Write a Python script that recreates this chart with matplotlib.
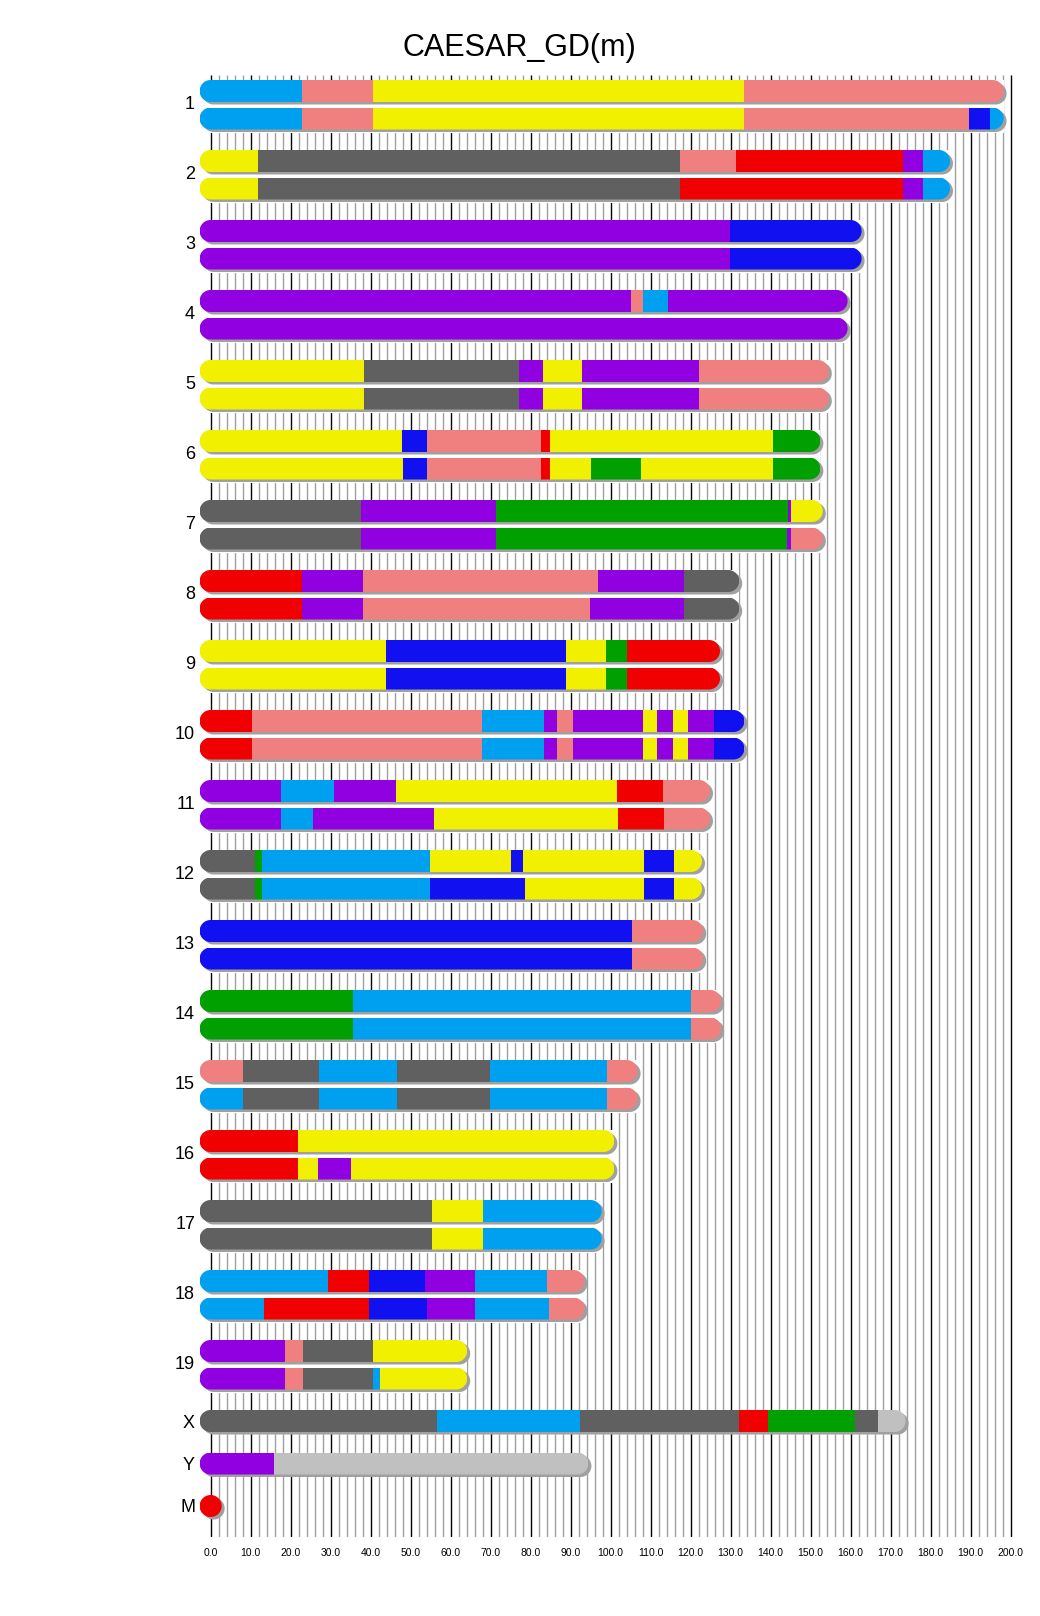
import numpy as np
import matplotlib
matplotlib.use("Agg")
import matplotlib.pyplot as plt
from matplotlib.patches import Polygon, Rectangle
from matplotlib.transforms import offset_copy

plt.rcParams['font.family'] = ['Liberation Sans', 'DejaVu Sans']

# haplotype colours
palette = {
    'lb': '#00a0f0',  # light blue
    'sa': '#f08080',  # salmon
    'ye': '#f0f000',  # yellow
    'dg': '#606060',  # dark grey
    're': '#f00000',  # red
    'pu': '#9000e0',  # purple
    'bl': '#1010f0',  # blue
    'gn': '#00a000',  # green
    'lg': '#c0c0c0',  # light grey
}

# each bar: list of (segment end in Mb, haplotype colour key)
chr1_a = [(22.9, 'lb'), (40.7, 'sa'), (133.3, 'ye'), (195.5, 'sa')]
chr1_b = [(22.9, 'lb'), (40.7, 'sa'), (133.3, 'ye'), (189.6, 'sa'), (194.8, 'bl'), (195.5, 'lb')]
chr2_a = [(11.9, 'ye'), (117.3, 'dg'), (131.3, 'sa'), (173.2, 're'), (178.2, 'pu'), (182.1, 'lb')]
chr2_b = [(11.9, 'ye'), (117.3, 'dg'), (173.2, 're'), (178.2, 'pu'), (182.1, 'lb')]
chr3_a = [(129.9, 'pu'), (160.0, 'bl')]
chr3_b = [(129.9, 'pu'), (160.0, 'bl')]
chr4_a = [(105.2, 'pu'), (108.2, 'sa'), (114.4, 'lb'), (156.5, 'pu')]
chr4_b = [(156.5, 'pu')]
chr5_a = [(38.4, 'ye'), (77.1, 'dg'), (83.0, 'pu'), (92.8, 'ye'), (122.2, 'pu'), (151.8, 'sa')]
chr5_b = [(38.4, 'ye'), (77.1, 'dg'), (83.0, 'pu'), (92.8, 'ye'), (122.2, 'pu'), (151.8, 'sa')]
chr6_a = [(47.9, 'ye'), (54.1, 'bl'), (82.5, 'sa'), (84.8, 're'), (140.5, 'ye'), (149.7, 'gn')]
chr6_b = [(48.2, 'ye'), (54.1, 'bl'), (82.5, 'sa'), (84.8, 're'), (95.1, 'ye'), (107.7, 'gn'),
          (140.5, 'ye'), (149.7, 'gn')]
chr7_a = [(37.6, 'dg'), (71.4, 'pu'), (144.3, 'gn'), (145.1, 'pu'), (150.3, 'ye')]
chr7_b = [(37.6, 'dg'), (71.4, 'pu'), (144.1, 'gn'), (145.1, 'pu'), (150.3, 'sa')]
chr8_a = [(22.9, 're'), (38.1, 'pu'), (96.9, 'sa'), (118.3, 'pu'), (129.4, 'dg')]
chr8_b = [(22.9, 're'), (38.1, 'pu'), (94.8, 'sa'), (118.3, 'pu'), (129.4, 'dg')]
chr9_a = [(43.8, 'ye'), (88.8, 'bl'), (98.8, 'ye'), (104.0, 'gn'), (124.6, 're')]
chr9_b = [(43.8, 'ye'), (88.8, 'bl'), (98.8, 'ye'), (104.0, 'gn'), (124.6, 're')]
chr10_a = [(10.3, 're'), (67.8, 'sa'), (83.3, 'lb'), (86.7, 'pu'), (90.5, 'sa'), (108.2, 'pu'),
           (111.5, 'ye'), (115.5, 'pu'), (119.4, 'ye'), (125.8, 'pu'), (130.7, 'bl')]
chr10_b = [(10.3, 're'), (67.8, 'sa'), (83.3, 'lb'), (86.7, 'pu'), (90.5, 'sa'), (108.2, 'pu'),
           (111.5, 'ye'), (115.5, 'pu'), (119.4, 'ye'), (125.8, 'pu'), (130.7, 'bl')]
chr11_a = [(17.5, 'pu'), (30.9, 'lb'), (46.4, 'pu'), (101.6, 'ye'), (113.2, 're'), (122.1, 'sa')]
chr11_b = [(17.6, 'pu'), (25.6, 'lb'), (55.8, 'pu'), (101.8, 'ye'), (113.3, 're'), (122.1, 'sa')]
chr12_a = [(11.2, 'dg'), (12.8, 'gn'), (54.8, 'lb'), (75.2, 'ye'), (78.2, 'bl'), (108.3, 'ye'),
           (115.8, 'bl'), (120.1, 'ye')]
chr12_b = [(11.2, 'dg'), (12.8, 'gn'), (54.8, 'lb'), (78.6, 'bl'), (108.3, 'ye'), (115.8, 'bl'),
           (120.1, 'ye')]
chr13_a = [(105.4, 'bl'), (120.4, 'sa')]
chr13_b = [(105.4, 'bl'), (120.4, 'sa')]
chr14_a = [(35.6, 'gn'), (120.1, 'lb'), (124.9, 'sa')]
chr14_b = [(35.6, 'gn'), (120.1, 'lb'), (124.9, 'sa')]
chr15_a = [(8.2, 'sa'), (27.1, 'dg'), (46.6, 'lb'), (69.8, 'dg'), (99.2, 'lb'), (104.0, 'sa')]
chr15_b = [(8.2, 'lb'), (27.1, 'dg'), (46.6, 'lb'), (69.8, 'dg'), (99.2, 'lb'), (104.0, 'sa')]
chr16_a = [(21.9, 're'), (98.2, 'ye')]
chr16_b = [(21.9, 're'), (26.8, 'ye'), (35.1, 'pu'), (98.2, 'ye')]
chr17_a = [(55.4, 'dg'), (68.2, 'ye'), (95.0, 'lb')]
chr17_b = [(55.4, 'dg'), (68.2, 'ye'), (95.0, 'lb')]
chr18_a = [(29.4, 'lb'), (39.7, 're'), (53.7, 'bl'), (66.0, 'pu'), (84.2, 'lb'), (90.7, 'sa')]
chr18_b = [(13.4, 'lb'), (39.7, 're'), (54.1, 'bl'), (66.2, 'pu'), (84.5, 'lb'), (90.7, 'sa')]
chr19_a = [(18.6, 'pu'), (23.0, 'sa'), (40.5, 'dg'), (61.4, 'ye')]
chr19_b = [(18.6, 'pu'), (23.0, 'sa'), (40.5, 'dg'), (42.3, 'lb'), (61.4, 'ye')]
chrX = [(56.5, 'dg'), (92.3, 'lb'), (132.0, 'dg'), (139.4, 're'), (161.1, 'gn'), (166.8, 'dg'),
        (171.0, 'lg')]
chrY = [(15.8, 'pu'), (91.7, 'lg')]
chrM = [(0.016, 're')]

autosomes = [
    ('1', chr1_a, chr1_b), ('2', chr2_a, chr2_b), ('3', chr3_a, chr3_b), ('4', chr4_a, chr4_b),
    ('5', chr5_a, chr5_b), ('6', chr6_a, chr6_b), ('7', chr7_a, chr7_b), ('8', chr8_a, chr8_b),
    ('9', chr9_a, chr9_b), ('10', chr10_a, chr10_b), ('11', chr11_a, chr11_b),
    ('12', chr12_a, chr12_b), ('13', chr13_a, chr13_b), ('14', chr14_a, chr14_b),
    ('15', chr15_a, chr15_b), ('16', chr16_a, chr16_b), ('17', chr17_a, chr17_b),
    ('18', chr18_a, chr18_b), ('19', chr19_a, chr19_b),
]
sex_mito = [('X', chrX), ('Y', chrY), ('M', chrM)]

tick_values = np.arange(0, 201, 10)

# =========================
# layout (pixels, y axis in pixels; x in Mb, 4 px / Mb)
# =========================
W, H = 1040, 1616
x0_px = 210.6
px_per_mb = 4.0
grid_top, grid_bot = 75, 1537
bar_h = 22
r_y = bar_h / 2
r_x = r_y / px_per_mb

fig = plt.figure(figsize=(W / 100, H / 100), dpi=100)
ax = fig.add_axes([0, (H - grid_bot) / H, 1, grid_bot / H])
ax.set_xlim(-x0_px / px_per_mb, (W - x0_px) / px_per_mb)
ax.set_ylim(grid_bot, 0)
for s in ax.spines.values():
    s.set_visible(False)
ax.yaxis.set_visible(False)
ax.set_xticks(tick_values)
ax.set_xticklabels([f"{v:.1f}" for v in tick_values], fontsize=7.5)
ax.tick_params(axis='x', length=0, pad=8)

# grid
xs = np.arange(0, 201, 2)
ax.vlines(xs[xs % 10 != 0], grid_top, grid_bot, colors='#a0a0a0', linewidth=1.0, zorder=1)
ax.vlines(xs[xs % 10 == 0], grid_top, grid_bot, colors='black', linewidth=1.0, zorder=1)

shadow_tr = offset_copy(ax.transData, fig=fig, x=3, y=-2.5, units='dots')


def capsule(length, yc):
    t = np.linspace(np.pi / 2, 3 * np.pi / 2, 40)
    left = np.c_[0 + r_x * np.cos(t), yc + r_y * np.sin(t)]
    t = np.linspace(-np.pi / 2, np.pi / 2, 40)
    right = np.c_[length + r_x * np.cos(t), yc + r_y * np.sin(t)]
    return np.vstack([left, right])


def draw_bar(segs, yc):
    length = segs[-1][0]
    ax.add_patch(Polygon(capsule(length, yc), closed=True, facecolor='#a0a0a0',
                         edgecolor='none', transform=shadow_tr, zorder=3))
    clip = Polygon(capsule(length, yc), closed=True, facecolor='none', edgecolor='none',
                   transform=ax.transData)
    starts = [0] + [e for e, _ in segs[:-1]]
    ends = [e for e, _ in segs]
    starts[0] = -r_x
    ends[-1] = length + r_x
    bars = ax.barh([yc] * len(segs), np.subtract(ends, starts), left=starts, height=bar_h,
                   color=[palette[c] for _, c in segs], linewidth=0, zorder=4)
    for p in bars.patches:
        p.set_clip_path(clip)


def label(name, yc):
    ax.text(-3.9, yc + 6.5, name, ha='right', va='baseline', fontsize=13)


pair_gap = 70
for i, (name, a, b) in enumerate(autosomes):
    ya = 91 + pair_gap * i
    yb = ya + 27.5
    shortest = min(a[-1][0], b[-1][0])
    # white band between the two homologues hides the grid there
    ax.add_patch(Rectangle((-r_x, ya - r_y), shortest + 2 * r_x, yb - ya + bar_h + 3,
                           facecolor='white', edgecolor='none', zorder=2))
    draw_bar(a, ya)
    draw_bar(b, yb)
    label(name, (ya + yb) / 2 - 2.3)

y_sex = 91 + pair_gap * 18 + 27.5
for j, (name, segs) in enumerate(sex_mito):
    yc = y_sex + 42.5 * (j + 1)
    draw_bar(segs, yc)
    label(name, yc)

fig.text(519 / W, 1 - 48 / H, "CAESAR_GD(m)", ha='center', va='center', fontsize=22)

fig.savefig("out.png", dpi=100)
